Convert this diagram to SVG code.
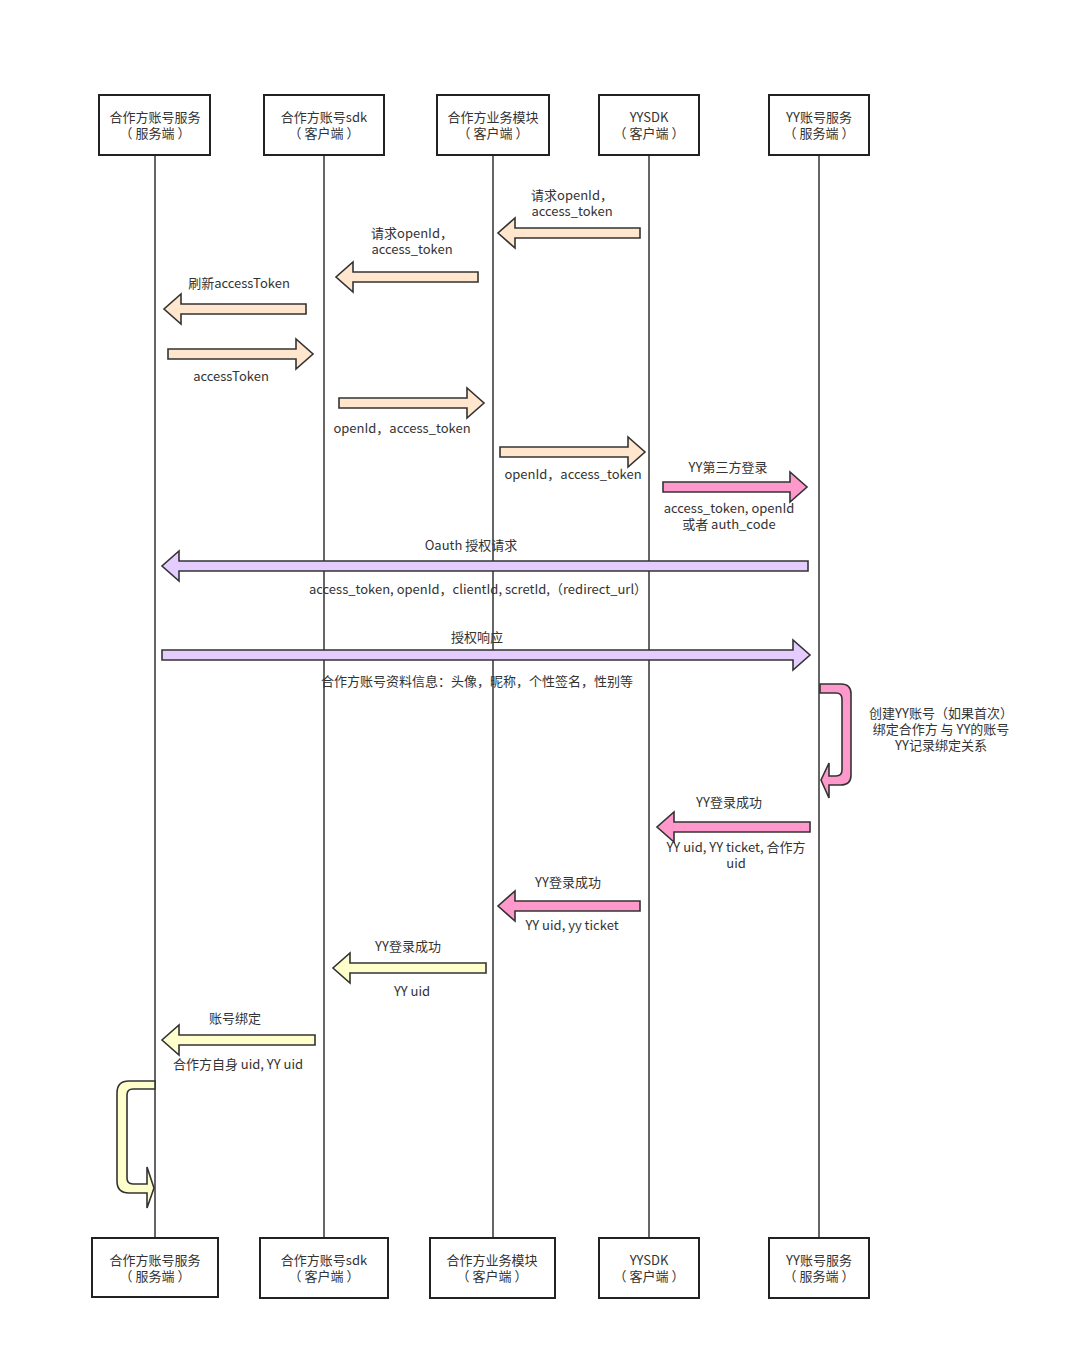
<svg xmlns="http://www.w3.org/2000/svg" width="1083" height="1359" viewBox="0 0 1083 1359">
<style>
text{font-family:"Noto Sans CJK SC","Liberation Sans",sans-serif;font-size:13px;fill:#333;text-anchor:middle}
.box{fill:#fff;stroke:#222;stroke-width:2}
.life{stroke:#333;stroke-width:1.5;fill:none}
.arr{stroke:#333;stroke-width:1.6;stroke-linejoin:miter}
.peach{fill:#FFE6CC}
.pink{fill:#FF99CC}
.lav{fill:#E5CCFF}
.yel{fill:#FFFFCC}
</style>
<rect width="1083" height="1359" fill="#fff"/>
<g id="lifelines">
<line class="life" x1="155" y1="155" x2="155" y2="1238"/>
<line class="life" x1="324" y1="155" x2="324" y2="1238"/>
<line class="life" x1="493" y1="155" x2="493" y2="1238"/>
<line class="life" x1="649" y1="155" x2="649" y2="1238"/>
<line class="life" x1="819" y1="155" x2="819" y2="1238"/>
</g>
<g id="node-partner-server-top"><rect class="box" x="99" y="95" width="111" height="60"/><text x="155" y="122">合作方账号服务</text><text x="155" y="138">（ 服务端 ）</text></g>
<g id="node-partner-sdk-top"><rect class="box" x="264" y="95" width="120" height="60"/><text x="324" y="122">合作方账号sdk</text><text x="324" y="138">（ 客户端 ）</text></g>
<g id="node-partner-biz-top"><rect class="box" x="437" y="95" width="112" height="60"/><text x="493" y="122">合作方业务模块</text><text x="493" y="138">（ 客户端 ）</text></g>
<g id="node-yysdk-top"><rect class="box" x="599" y="95" width="100" height="60"/><text x="649" y="122">YYSDK</text><text x="649" y="138">（ 客户端 ）</text></g>
<g id="node-yy-server-top"><rect class="box" x="769" y="95" width="100" height="60"/><text x="819" y="122">YY账号服务</text><text x="819" y="138">（ 服务端 ）</text></g>
<g id="node-partner-server-bottom"><rect class="box" x="92" y="1238" width="126" height="59"/><text x="155" y="1265">合作方账号服务</text><text x="155" y="1281">（ 服务端 ）</text></g>
<g id="node-partner-sdk-bottom"><rect class="box" x="260" y="1238" width="128" height="60"/><text x="324" y="1265">合作方账号sdk</text><text x="324" y="1281">（ 客户端 ）</text></g>
<g id="node-partner-biz-bottom"><rect class="box" x="430" y="1238" width="125" height="60"/><text x="492" y="1265">合作方业务模块</text><text x="492" y="1281">（ 客户端 ）</text></g>
<g id="node-yysdk-bottom"><rect class="box" x="599" y="1238" width="100" height="60"/><text x="649" y="1265">YYSDK</text><text x="649" y="1281">（ 客户端 ）</text></g>
<g id="node-yy-server-bottom"><rect class="box" x="769" y="1238" width="100" height="60"/><text x="819" y="1265">YY账号服务</text><text x="819" y="1281">（ 服务端 ）</text></g>
<g id="connectors">
<path class="arr peach" d="M640,228 L515,228 L515,218 L498,233 L515,248 L515,238 L640,238 Z"/>
<path class="arr peach" d="M478,272 L353,272 L353,262 L336,277 L353,292 L353,282 L478,282 Z"/>
<path class="arr peach" d="M306,304 L181,304 L181,294 L164,309 L181,324 L181,314 L306,314 Z"/>
<path class="arr peach" d="M168,349 L296,349 L296,339 L313,354 L296,369 L296,359 L168,359 Z"/>
<path class="arr peach" d="M339,398 L467,398 L467,388 L484,403 L467,418 L467,408 L339,408 Z"/>
<path class="arr peach" d="M500,447 L628,447 L628,437 L645,452 L628,467 L628,457 L500,457 Z"/>
<path class="arr pink" d="M663,482 L790,482 L790,472 L807,487 L790,502 L790,492 L663,492 Z"/>
<path class="arr lav" d="M808,561 L179,561 L179,551 L162,566 L179,581 L179,571 L808,571 Z"/>
<path class="arr lav" d="M162,650 L793,650 L793,640 L810,655 L793,670 L793,660 L162,660 Z"/>
<path class="arr pink" d="M820,684 L841,684 Q851,684 851,694 L851,775 Q851,785 841,785 L829,785 L829,798 L821,780 L829,763 L829,776 L836,776 Q842,776 842,770 L842,699 Q842,693 836,693 L820,693 Z"/>
<path class="arr pink" d="M810,822 L674,822 L674,812 L657,827 L674,842 L674,832 L810,832 Z"/>
<path class="arr pink" d="M640,901 L515,901 L515,891 L498,906 L515,921 L515,911 L640,911 Z"/>
<path class="arr yel" d="M486,963 L350,963 L350,953 L333,968 L350,983 L350,973 L486,973 Z"/>
<path class="arr yel" d="M315,1035 L179,1035 L179,1025 L162,1040 L179,1055 L179,1045 L315,1045 Z"/>
<path class="arr yel" d="M155,1081 L129,1081 Q117,1081 117,1093 L117,1181 Q117,1193 129,1193 L147,1193 L147,1208 L154,1188 L147,1167 L147,1184 L133,1184 Q127,1184 127,1178 L127,1095 Q127,1089 133,1089 L155,1089 Z"/>
</g>
<g id="labels">
<text x="572" y="200">请求openId，</text><text x="572" y="216">access_token</text>
<text x="412" y="238">请求openId，</text><text x="412" y="254">access_token</text>
<text x="239" y="288">刷新accessToken</text>
<text x="231" y="381">accessToken</text>
<text x="402" y="433">openId，access_token</text>
<text x="573" y="479">openId，access_token</text>
<text x="728" y="472">YY第三方登录</text>
<text x="729" y="513">access_token, openId</text><text x="729" y="529">或者 auth_code</text>
<text x="471" y="550">Oauth 授权请求</text>
<text x="478" y="594">access_token, openId，clientId, scretId,（redirect_url）</text>
<text x="477" y="642">授权响应</text>
<text x="477" y="686">合作方账号资料信息：头像，昵称，个性签名，性别等</text>
<text x="941" y="718">创建YY账号（如果首次）</text><text x="941" y="734">绑定合作方 与 YY的账号</text><text x="941" y="750">YY记录绑定关系</text>
<text x="729" y="807">YY登录成功</text>
<text x="736" y="852">YY uid, YY ticket, 合作方</text><text x="736" y="868">uid</text>
<text x="568" y="887">YY登录成功</text><text x="572" y="930">YY uid, yy ticket</text>
<text x="408" y="951">YY登录成功</text><text x="412" y="996">YY uid</text>
<text x="235" y="1023">账号绑定</text><text x="238" y="1069">合作方自身 uid, YY uid</text>
</g>
</svg>
